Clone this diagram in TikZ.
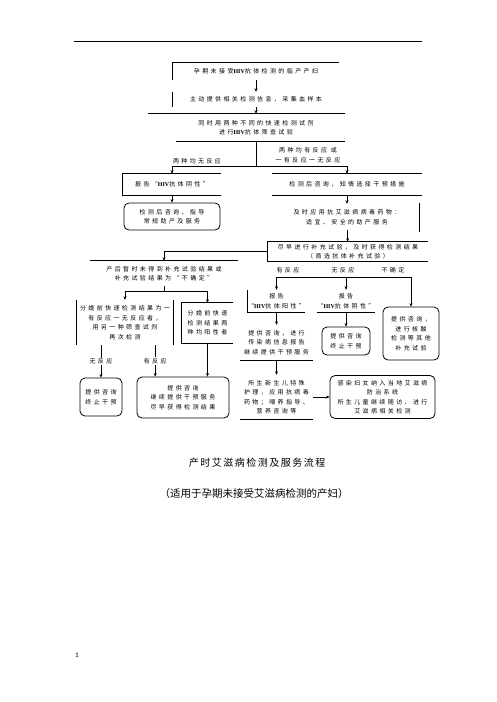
\documentclass[tikz,border=0pt]{standalone}
\usepackage{fontspec}
\setmainfont{Noto Sans CJK SC}
\newfontfamily\flowfont[LetterSpace=40]{Noto Sans CJK SC}
\newfontfamily\titlefont[LetterSpace=15]{Noto Sans CJK SC}
\newfontfamily\hivfont{Liberation Serif}
\newfontfamily\pagefont{Carlito}
\newcommand{\hivtag}{{\hivfont\bfseries HIV}}
\usetikzlibrary{arrows.meta}

\begin{document}
\begin{tikzpicture}[x=1pt, y=-1pt,
  every node/.style={font=\flowfont\fontsize{6}{9.5}\selectfont, align=center, inner sep=0pt},
  rbox/.style={draw, rounded corners=5pt, line width=0.8pt},
  line/.style={line width=0.8pt},
  arr/.style={line width=0.8pt, -{Stealth[length=3.5pt, width=3pt]}},
  tag/.style={fill=white, inner sep=1pt}]
\useasboundingbox (0,0) rectangle (496,702);

% Header rule
\draw[line] (74,41) -- (422,41);

% Screening part
\node[minimum width=166, minimum height=17] (b1) at (256,71.5) {孕期未接受\hivtag 抗体检测的临产产妇};
\node[minimum width=166, minimum height=15] (b2) at (256,99.5) {主动提供相关检测信息，采集血样本};
\node[minimum width=178, minimum height=27] (b3) at (256,127.5) {同时用两种不同的快速检测试剂\\进行\hivtag 抗体筛查试验};
\coordinate (s1) at (256,166);

\node[minimum width=98, minimum height=21] (b4) at (172,184.5) {报告“\hivtag 抗体阴性”};
\node[minimum width=150, minimum height=21] (b5) at (347,184.5) {检测后咨询，知情选择干预措施};
\node[rbox, minimum width=96, minimum height=27] (r1) at (172,216.5) {检测后咨询、指导\\常规助产及服务};
\node[minimum width=144, minimum height=26] (b6) at (347,217) {及时应用抗艾滋病病毒药物：\\适宜、安全的助产服务};
\node[minimum width=160, minimum height=19] (b7) at (348,251.5) {尽早进行补充试验，及时获得检测结果\\（首选抗体补充试验）};

% Branch labels
\node (l1) at (197,161) {两种均无反应};
\node (l2) at (308,155) {两种均有反应 或\\一有反应一无反应};

% Left part
\node[minimum width=148, minimum height=25] (b8) at (164,273.5) {产后暂时未得到补充试验结果或\\补充试验结果为“不确定”};
\coordinate (s2) at (164,291);
\node[minimum width=96, minimum height=45] (b9) at (125,322.5) {分娩前快速检测结果为一\\有反应一无反应者，\\用另一种筛查试剂\\再次检测};
\node[minimum width=51, minimum height=40] (b10) at (207.5,323) {分娩前快速\\检测结果两\\种均阳性者};
\node[rbox, minimum width=42, minimum height=38] (r2) at (101,397) {提供咨询\\终止干预};
\node[rbox, minimum width=92, minimum height=41] (r3) at (183,397.5) {提供咨询\\继续提供干预服务\\尽早获得检测结果};

% Right part
\coordinate (t1) at (276.5,277);
\coordinate (t2) at (346,277);
\coordinate (t3) at (411,277);
\node (l3) at (288,270) {有反应};
\node (l4) at (343,270) {无反应};
\node (l5) at (393,270) {不确定};
\node[minimum width=57, minimum height=22] (b11) at (276.5,301) {报告\\“\hivtag 抗体阳性”};
\node[minimum width=58, minimum height=22] (b12) at (346,301) {报告\\“\hivtag 抗体阴性”};
\node[minimum width=73, minimum height=35] (b13) at (276.5,342.5) {提供咨询，进行\\传染病信息报告\\继续提供干预服务};
\node[minimum width=73, minimum height=44] (b14) at (276.5,397) {所生新生儿特殊\\护理，应用抗病毒\\药物；喂养指导、\\营养咨询等};
\node[rbox, minimum width=48, minimum height=28] (r4) at (346,341) {提供咨询\\终止干预};
\node[rbox, minimum width=56, minimum height=53] (r5) at (411,333.5) {提供咨询，\\进行核酸\\检测等其他\\补充试验};
\node[rbox, minimum width=105, minimum height=43] (r6) at (382.5,397) {感染妇女纳入当地艾滋病\\防治系统\\所生儿童继续随访、进行\\艾滋病相关检测};

% Box edges
\draw[line] (b1.south west) -- (b1.north west) -- (b1.north east);
\draw[line] (b2.north west) -- (b2.south west);
\draw[line] ([xshift=-19]b3.north west) -- (b3.north east);
\draw[line] ([xshift=9]b3.south west) -- (b3.south east);
\draw[line] (b4.north east) -- (b4.north west) -- (b4.south west) -- (b4.south east);
\draw[line] (b5.north west) -- (b5.north east);
\draw[line] (b5.south west) -- (b5.south east);
\draw[line] ([yshift=1]b6.north east) -- ([yshift=-2]b6.south east);
\draw[line] (b7.north east) -- (b7.north west) -- (b7.south west) -- (b7.south east);
\draw[line] (b8.north west) -- (b8.north east);
\draw[line] (b9.north west) -- (b9.south west);
\draw[line] (b9.north east) -- (b9.south east);
\draw[line] (b10.north east) -- (b10.north west) -- (b10.south west) -- (b10.south east);
\draw[line] (b11.north west) -- (b11.south west) -- (b11.south east);
\draw[line] (b12.south west) -- (b12.south east);
\draw[line] (b13.south west) -- (b13.south east);
\draw[line] (b14.south west) -- (b14.south east);

% Arrows
\draw[arr] (b1) -- (b2);
\draw[arr] (b2) -- (b3);
\draw[line] (b3.south) -- (s1);
\draw[arr] (s1) -| (b4.north);
\draw[arr] (s1) -| (b5.north);
\draw[arr] (b4) -- (r1);
\draw[arr] (b5) -- (b6);
\draw[arr] (b6) -- (b7);
\draw[arr] (b7.west) -| (b8.north);
\draw[line] (b8.south) -- (s2);
\draw[arr] (s2) -| (b9.north);
\draw[arr] (s2) -| (b10.north);
\draw[arr] (r2.north |- b9.south) -- (r2.north) node[tag, midway] {无反应};
\draw[arr] ([xshift=-18]b9.south east) -- ([xshift=-18]b9.south east |- r3.north) node[tag, midway] {有反应};
\draw[arr] (b10.south) -- (b10.south |- r3.north);
\draw[line] (t1) -- (t3);
\draw[arr] (t1) -- (b11.north);
\draw[arr] (t2) -- (b12.north);
\draw[arr] (t3) -- (r5.north);
\draw[arr] (b11) -- (b13);
\draw[arr] (b13) -- (b14);
\draw[arr] (b14) -- (r6);
\draw[arr] (b12) -- (r4);

% Caption
\node[font=\titlefont\fontsize{10}{12}\selectfont] (title) at (257,463) {产时艾滋病检测及服务流程};
\node[font=\fontsize{10.5}{12}\selectfont] (subtitle) at (254,494) {（适用于孕期未接受艾滋病检测的产妇）};
\node[font=\pagefont\fontsize{7}{8}\selectfont] (page) at (77,655) {1};
\end{tikzpicture}
\end{document}
